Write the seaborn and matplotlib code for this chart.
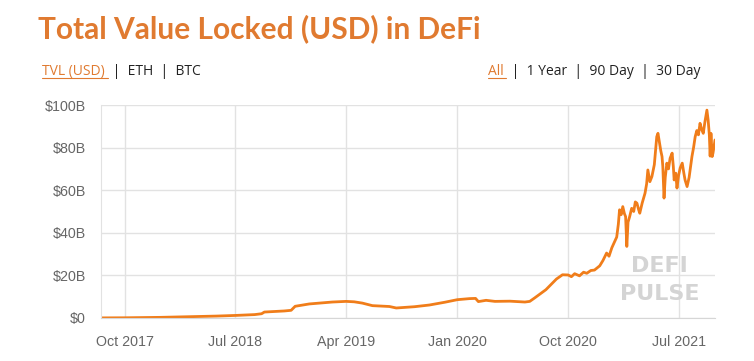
import matplotlib
matplotlib.use("Agg")
import matplotlib.pyplot as plt
import matplotlib.dates as mdates
import matplotlib.ticker as mticker
import pandas as pd
import seaborn as sns

# TVL in USD billions
dates = [
    "2017-08-03", "2017-10-01", "2017-12-27", "2018-03-07", "2018-05-15",
    "2018-07-01", "2018-08-18", "2018-09-04", "2018-09-11", "2018-10-30",
    "2018-11-16", "2018-11-26", "2018-12-31", "2019-02-26", "2019-04-01",
    "2019-04-21", "2019-05-11", "2019-06-05", "2019-07-17", "2019-08-03",
    "2019-09-17", "2019-10-24", "2019-12-01", "2020-01-01", "2020-01-31",
    "2020-02-15", "2020-02-22", "2020-03-12", "2020-04-03", "2020-05-10",
    "2020-06-16", "2020-06-28", "2020-07-10", "2020-08-07", "2020-09-02",
    "2020-09-17", "2020-10-01", "2020-10-09", "2020-10-17", "2020-10-29",
    "2020-11-08", "2020-11-16", "2020-11-26", "2020-12-05", "2020-12-18",
    "2020-12-26", "2021-01-04", "2021-01-10", "2021-01-17", "2021-01-23",
    "2021-01-29", "2021-02-02", "2021-02-05", "2021-02-09", "2021-02-13",
    "2021-02-17", "2021-02-20", "2021-02-23", "2021-02-26", "2021-03-02",
    "2021-03-07", "2021-03-12", "2021-03-16", "2021-03-20", "2021-03-24",
    "2021-03-27", "2021-04-02", "2021-04-09", "2021-04-13", "2021-04-16",
    "2021-04-21", "2021-04-26", "2021-05-02", "2021-05-08", "2021-05-11",
    "2021-05-15", "2021-05-18", "2021-05-21", "2021-05-23", "2021-05-26",
    "2021-05-29", "2021-06-02", "2021-06-06", "2021-06-10", "2021-06-15",
    "2021-06-18", "2021-06-20", "2021-06-24", "2021-06-27", "2021-07-01",
    "2021-07-05", "2021-07-10", "2021-07-14", "2021-07-17", "2021-07-22",
    "2021-07-27", "2021-08-03", "2021-08-07", "2021-08-11", "2021-08-15",
    "2021-08-19", "2021-08-23", "2021-08-27", "2021-08-31", "2021-09-04",
    "2021-09-09", "2021-09-12", "2021-09-15", "2021-09-17", "2021-09-19",
    "2021-09-22", "2021-09-24", "2021-09-27", "2021-09-29",
]
tvl_billions = [
    0.05, 0.1, 0.3, 0.6, 0.9,
    1.2, 1.6, 2.0, 2.8, 3.3,
    3.6, 5.5, 6.6, 7.5, 7.8,
    7.6, 7.0, 5.8, 5.4, 4.7,
    5.3, 6.1, 7.4, 8.6, 9.1,
    9.2, 7.7, 8.3, 7.8, 7.9,
    7.5, 7.8, 9.4, 13.3, 18.3,
    20.3, 20.2, 19.4, 20.8, 19.8,
    21.5, 21.0, 22.3, 22.5, 24.5,
    27.0, 30.5, 29.0, 33.0, 35.5,
    38.0, 44.0, 50.8, 48.5, 52.3,
    49.0, 47.6, 33.6, 45.0, 47.6,
    51.5, 50.0, 54.5, 53.9, 51.0,
    49.2, 54.0, 58.6, 63.0, 69.5,
    64.0, 66.4, 72.0, 85.1, 86.7,
    82.0, 78.5, 75.8, 71.1, 56.3,
    66.0, 72.7, 70.0, 75.0, 77.4,
    71.0, 64.8, 68.0, 61.0, 67.0,
    70.5, 72.7, 68.0, 64.8, 61.7,
    66.0, 75.8, 80.0, 85.1, 88.0,
    86.0, 91.4, 88.5, 86.7, 92.0,
    97.6, 93.0, 86.0, 76.0, 86.7,
    75.8, 77.4, 81.0, 83.6,
]

y_ticks = [0, 20, 40, 60, 80, 100]
x_ticks = ["2017-10-01", "2018-07-01", "2019-04-01", "2020-01-01",
           "2020-10-01", "2021-07-01"]

df = pd.DataFrame({"date": pd.to_datetime(dates), "tvl": tvl_billions})

sns.set_style("white")
plt.rcParams["font.family"] = ["Liberation Sans", "DejaVu Sans"]

fig = plt.figure(figsize=(7.54, 3.61), dpi=100)
ax = fig.add_axes([101 / 754, 43 / 361, 614 / 754, 213 / 361])

sns.lineplot(data=df, x="date", y="tvl", ax=ax, color="#F07D1A", linewidth=2.0)

grid_col = "#E2E2E2"
ax.set_xlim(df["date"].min(), df["date"].max())
ax.set_ylim(0, 100)
ax.set_yticks(y_ticks)
ax.yaxis.set_major_formatter(mticker.FuncFormatter(lambda v, p: f"${v:.0f}B" if v else "$0"))
ax.set_xticks(pd.to_datetime(x_ticks))
ax.xaxis.set_major_formatter(mdates.DateFormatter("%b %Y"))
ax.grid(True, color=grid_col, linewidth=1)
ax.set_axisbelow(True)
ax.tick_params(axis="both", length=9, color=grid_col, labelcolor="#666666",
               labelsize=10.3, pad=2)
ax.tick_params(axis="x", pad=3)
for side in ["top", "right"]:
    ax.spines[side].set_visible(False)
ax.spines["left"].set_color(grid_col)
ax.spines["bottom"].set_color("#D6D6D6")
ax.set_xlabel("")
ax.set_ylabel("")

# watermark
ax.text(0.91, 0.245, "DEFI", transform=ax.transAxes, ha="center", va="center",
        fontsize=16, fontweight="bold", color="#D4D4D4", family="DejaVu Sans")
ax.text(0.91, 0.115, "PULSE", transform=ax.transAxes, ha="center", va="center",
        fontsize=16, fontweight="bold", color="#D4D4D4", family="DejaVu Sans")

# header
fig.text(38 / 754, 1 - 38 / 361, "Total Value Locked (USD) in DeFi",
         fontsize=21.5, fontweight="bold", color="#E07A30", family="Lato",
         va="baseline")
fig.text(42 / 754, 1 - 75 / 361, "TVL (USD)", fontsize=10, color="#E07A30",
         family="Open Sans", va="baseline")
fig.text(109 / 754, 1 - 75 / 361, " |  ETH  |  BTC", fontsize=10, color="#222222",
         family="Open Sans", va="baseline")
fig.text(488 / 754, 1 - 75 / 361, "All", fontsize=10, color="#E07A30",
         family="Open Sans", va="baseline")
fig.text(508 / 754, 1 - 75 / 361, " |  1 Year  |  90 Day  |  30 Day", fontsize=10,
         color="#222222", family="Open Sans", va="baseline")
fig.add_artist(plt.Line2D([42 / 754, 108 / 754], [1 - 78 / 361] * 2, color="#E07A30",
                          linewidth=0.8))
fig.add_artist(plt.Line2D([488 / 754, 506 / 754], [1 - 78 / 361] * 2, color="#E07A30",
                          linewidth=0.8))

fig.savefig("out.png", dpi=100)
